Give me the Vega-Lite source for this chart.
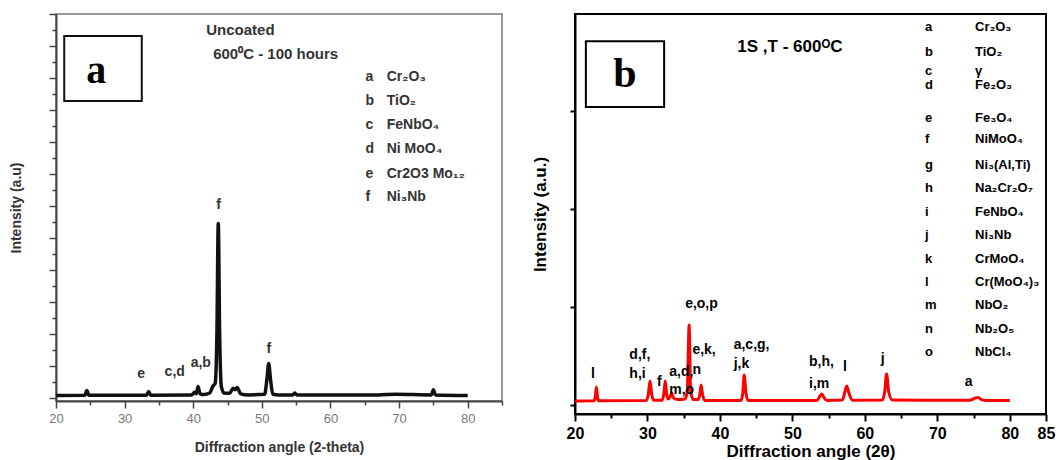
{
  "$schema": "https://vega.github.io/schema/vega-lite/v6.json",
  "background": "white",
  "padding": {"left": 8, "top": 12, "right": 4, "bottom": 2},
  "spacing": 26,
  "config": {"font": "Liberation Sans"},
  "datasets": {
    "xrdA": [
      {"x": 20.0, "y": 15}, {"x": 24.2, "y": 16}, {"x": 24.5, "y": 45}, {"x": 24.8, "y": 16},
      {"x": 33.2, "y": 16}, {"x": 33.5, "y": 40}, {"x": 33.8, "y": 16},
      {"x": 39.8, "y": 18}, {"x": 40.2, "y": 35}, {"x": 40.45, "y": 25}, {"x": 40.7, "y": 70}, {"x": 41.0, "y": 25},
      {"x": 41.5, "y": 20}, {"x": 42.4, "y": 30}, {"x": 42.9, "y": 75}, {"x": 43.2, "y": 90},
      {"x": 43.45, "y": 400}, {"x": 43.65, "y": 1090}, {"x": 43.85, "y": 400}, {"x": 44.1, "y": 70},
      {"x": 44.5, "y": 30}, {"x": 45.3, "y": 28}, {"x": 45.8, "y": 60}, {"x": 46.1, "y": 50}, {"x": 46.4, "y": 65},
      {"x": 46.9, "y": 25}, {"x": 48.0, "y": 18}, {"x": 50.4, "y": 22}, {"x": 50.75, "y": 120}, {"x": 51.0, "y": 215},
      {"x": 51.25, "y": 120}, {"x": 51.6, "y": 22}, {"x": 52.5, "y": 18}, {"x": 54.5, "y": 18}, {"x": 54.8, "y": 30},
      {"x": 55.1, "y": 18}, {"x": 67.0, "y": 18}, {"x": 69.5, "y": 22}, {"x": 74.7, "y": 18}, {"x": 75.0, "y": 50},
      {"x": 75.3, "y": 18}, {"x": 80.0, "y": 15}
    ],
    "peaksA": [
      {"x": 32.4, "y": 149, "label": "e"},
      {"x": 37.3, "y": 161, "label": "c,d"},
      {"x": 41.1, "y": 217, "label": "a,b"},
      {"x": 43.7, "y": 1205, "label": "f"},
      {"x": 51.0, "y": 305, "label": "f"}
    ],
    "notesA": [
      {"x": 41.9, "y": 2299, "label": "Uncoated"},
      {"x": 42.9, "y": 2149, "label": "600⁰C - 100 hours"}
    ],
    "legendA": [
      {"x": 65.1, "xp": 68.2, "y": 2005, "key": "a", "phase": "Cr₂O₃"},
      {"x": 65.1, "xp": 68.2, "y": 1855, "key": "b", "phase": "TiO₂"},
      {"x": 65.1, "xp": 68.2, "y": 1705, "key": "c", "phase": "FeNbO₄"},
      {"x": 65.1, "xp": 68.2, "y": 1555, "key": "d", "phase": "Ni MoO₄"},
      {"x": 65.1, "xp": 68.2, "y": 1399, "key": "e", "phase": "Cr2O3 Mo₁₂"},
      {"x": 65.1, "xp": 68.2, "y": 1255, "key": "f", "phase": "Ni₃Nb"}
    ],
    "boxA": [{"x": 21.2, "x2": 32.5, "y": 2262, "y2": 1856, "label": "a", "cx": 25.85, "cy": 2045}],
    "xrdB": [
      {"x": 20.0, "y": 40}, {"x": 22.6, "y": 42}, {"x": 22.8, "y": 80}, {"x": 22.95, "y": 183}, {"x": 23.1, "y": 80},
      {"x": 23.3, "y": 42}, {"x": 29.8, "y": 45}, {"x": 30.1, "y": 100}, {"x": 30.35, "y": 244}, {"x": 30.6, "y": 100},
      {"x": 30.9, "y": 48}, {"x": 32.0, "y": 48}, {"x": 32.25, "y": 110}, {"x": 32.45, "y": 244}, {"x": 32.65, "y": 110},
      {"x": 32.85, "y": 60}, {"x": 33.1, "y": 80}, {"x": 33.35, "y": 120}, {"x": 33.6, "y": 70}, {"x": 34.2, "y": 55},
      {"x": 35.2, "y": 60}, {"x": 35.5, "y": 150}, {"x": 35.75, "y": 815}, {"x": 35.95, "y": 150}, {"x": 36.3, "y": 55},
      {"x": 37.0, "y": 55}, {"x": 37.25, "y": 120}, {"x": 37.4, "y": 203}, {"x": 37.6, "y": 110}, {"x": 37.9, "y": 45},
      {"x": 42.9, "y": 45}, {"x": 43.15, "y": 120}, {"x": 43.35, "y": 305}, {"x": 43.6, "y": 120}, {"x": 43.9, "y": 45},
      {"x": 53.4, "y": 45}, {"x": 53.8, "y": 90}, {"x": 54.05, "y": 111}, {"x": 54.4, "y": 70}, {"x": 54.8, "y": 45},
      {"x": 56.9, "y": 50}, {"x": 57.3, "y": 150}, {"x": 57.5, "y": 193}, {"x": 57.8, "y": 120}, {"x": 58.3, "y": 48},
      {"x": 62.4, "y": 50}, {"x": 62.75, "y": 140}, {"x": 63.0, "y": 315}, {"x": 63.3, "y": 130}, {"x": 63.8, "y": 50},
      {"x": 74.5, "y": 48}, {"x": 75.2, "y": 70}, {"x": 75.6, "y": 76}, {"x": 76.1, "y": 55}, {"x": 76.8, "y": 45},
      {"x": 80.0, "y": 45}
    ],
    "peaksB": [
      {"x": 22.2, "y": 319, "label": "l"},
      {"x": 27.5, "y": 507, "label": "d,f,"},
      {"x": 27.5, "y": 319, "label": "h,i"},
      {"x": 31.3, "y": 235, "label": "f"},
      {"x": 33.0, "y": 337, "label": "a,d,"},
      {"x": 33.0, "y": 150, "label": "m,o"},
      {"x": 35.2, "y": 1033, "label": "e,o,p"},
      {"x": 36.2, "y": 558, "label": "e,k,"},
      {"x": 36.2, "y": 354, "label": "n"},
      {"x": 41.9, "y": 609, "label": "a,c,g,"},
      {"x": 41.9, "y": 421, "label": "j,k"},
      {"x": 52.3, "y": 439, "label": "b,h,"},
      {"x": 52.3, "y": 217, "label": "i,m"},
      {"x": 57.0, "y": 388, "label": "l"},
      {"x": 62.2, "y": 472, "label": "j"},
      {"x": 73.8, "y": 235, "label": "a"}
    ],
    "notesB": [{"x": 42.4, "y": 3652, "label": "1S ,T - 600ᴼC"}],
    "legendB": [
      {"x": 68.3, "xp": 75.2, "y": 3856, "key": "a", "phase": "Cr₂O₃"},
      {"x": 68.3, "xp": 75.2, "y": 3601, "key": "b", "phase": "TiO₂"},
      {"x": 68.3, "xp": 75.2, "y": 3405, "key": "c", "phase": "γ"},
      {"x": 68.3, "xp": 75.2, "y": 3265, "key": "d", "phase": "Fe₂O₃"},
      {"x": 68.3, "xp": 75.2, "y": 2927, "key": "e", "phase": "Fe₃O₄"},
      {"x": 68.3, "xp": 75.2, "y": 2713, "key": "f", "phase": "NiMoO₄"},
      {"x": 68.3, "xp": 75.2, "y": 2448, "key": "g", "phase": "Ni₃(Al,Ti)"},
      {"x": 68.3, "xp": 75.2, "y": 2213, "key": "h", "phase": "Na₂Cr₂O₇"},
      {"x": 68.3, "xp": 75.2, "y": 1969, "key": "i", "phase": "FeNbO₄"},
      {"x": 68.3, "xp": 75.2, "y": 1734, "key": "j", "phase": "Ni₃Nb"},
      {"x": 68.3, "xp": 75.2, "y": 1489, "key": "k", "phase": "CrMoO₄"},
      {"x": 68.3, "xp": 75.2, "y": 1255, "key": "l", "phase": "Cr(MoO₄)₃"},
      {"x": 68.3, "xp": 75.2, "y": 1020, "key": "m", "phase": "NbO₂"},
      {"x": 68.3, "xp": 75.2, "y": 775, "key": "n", "phase": "Nb₂O₅"},
      {"x": 68.3, "xp": 75.2, "y": 541, "key": "o", "phase": "NbCl₄"}
    ],
    "boxB": [{"x": 21.5, "x2": 32.3, "y": 3713, "y2": 3040, "label": "b", "cx": 26.9, "cy": 3376}]
  },
  "hconcat": [
    {
      "width": 446,
      "height": 387,
      "view": {"stroke": "#777", "strokeWidth": 1.5},
      "encoding": {
        "x": {
          "field": "x", "type": "quantitative",
          "scale": {"domain": [20, 85], "nice": false, "zero": false},
          "axis": {
            "title": "Diffraction angle (2-theta)",
            "values": [20, 25, 30, 35, 40, 45, 50, 55, 60, 65, 70, 75, 80, 85],
            "labelExpr": "datum.value % 10 === 0 && datum.value <= 80 ? datum.label : ''",
            "tickSize": {"condition": {"test": "datum.value % 10 === 0", "value": 7}, "value": 4},
            "grid": false, "domainColor": "#444", "domainWidth": 2, "tickColor": "#444", "tickWidth": 1.5,
            "labelColor": "#777", "labelFontSize": 13, "labelPadding": 4, "labelFlush": false, "labelOverlap": false,
            "titleFontSize": 14, "titleFontWeight": "bold", "titleColor": "#333", "titlePadding": 15
          }
        },
        "y": {
          "field": "y", "type": "quantitative",
          "scale": {"domain": [-20, 2400], "nice": false, "zero": false},
          "axis": {
            "title": "Intensity (a.u)",
            "values": [0, 100, 200, 300, 400, 500, 600, 700, 800, 900, 1000, 1100, 1200, 1300, 1400, 1500, 1600, 1700, 1800, 1900, 2000, 2100, 2200, 2300, 2400],
            "labels": false,
            "tickSize": {"condition": {"test": "datum.value % 200 === 0", "value": 7}, "value": 4},
            "grid": false, "domainColor": "#444", "domainWidth": 2, "tickColor": "#444", "tickWidth": 1.5,
            "titleFontSize": 14, "titleFontWeight": "bold", "titleColor": "#333", "titlePadding": 25
          }
        }
      },
      "layer": [
        {"data": {"name": "xrdA"}, "mark": {"type": "line", "color": "#111", "strokeWidth": 3.5, "interpolate": "monotone"}},
        {"data": {"name": "peaksA"}, "mark": {"type": "text", "fontSize": 14, "fontWeight": "bold", "color": "#333", "baseline": "middle"}, "encoding": {"text": {"field": "label"}}},
        {"data": {"name": "notesA"}, "mark": {"type": "text", "fontSize": 15, "fontWeight": "bold", "color": "#333", "align": "left", "baseline": "middle"}, "encoding": {"text": {"field": "label"}}},
        {"data": {"name": "legendA"}, "mark": {"type": "text", "fontSize": 14, "fontWeight": "bold", "color": "#333", "align": "left", "baseline": "middle"}, "encoding": {"text": {"field": "key"}}},
        {"data": {"name": "legendA"}, "mark": {"type": "text", "fontSize": 14, "fontWeight": "bold", "color": "#333", "align": "left", "baseline": "middle"}, "encoding": {"x": {"field": "xp", "type": "quantitative"}, "text": {"field": "phase"}}},
        {"data": {"name": "boxA"}, "mark": {"type": "rect", "fill": "white", "stroke": "#111", "strokeWidth": 2}, "encoding": {"x2": {"field": "x2"}, "y2": {"field": "y2"}}},
        {"data": {"name": "boxA"}, "mark": {"type": "text", "font": "Liberation Serif", "fontSize": 40, "fontWeight": "bold", "color": "#000", "baseline": "middle"}, "encoding": {"x": {"field": "cx", "type": "quantitative"}, "y": {"field": "cy", "type": "quantitative"}, "text": {"field": "label"}}}
      ]
    },
    {
      "width": 471,
      "height": 400,
      "view": {"stroke": "#000", "strokeWidth": 2},
      "encoding": {
        "x": {
          "field": "x", "type": "quantitative",
          "scale": {"domain": [20, 85], "nice": false, "zero": false},
          "axis": {
            "title": "Diffraction angle (2θ)",
            "values": [20, 25, 30, 35, 40, 45, 50, 55, 60, 65, 70, 75, 80, 85],
            "labelExpr": "datum.value % 10 === 0 || datum.value === 85 ? datum.label : ''",
            "tickSize": {"condition": {"test": "datum.value % 10 === 0 || datum.value === 85", "value": 7}, "value": 4},
            "grid": false, "domainColor": "#000", "domainWidth": 2, "tickColor": "#000", "tickWidth": 2,
            "labelColor": "#000", "labelFontSize": 16, "labelFontWeight": "bold", "labelPadding": 4, "labelFlush": false, "labelOverlap": false,
            "titleFontSize": 17, "titleFontWeight": "bold", "titleColor": "#000", "titlePadding": 2
          }
        },
        "y": {
          "field": "y", "type": "quantitative",
          "scale": {"domain": [-92, 3990], "nice": false, "zero": false},
          "axis": {
            "title": "Intensity (a.u.)",
            "values": [0, 1000, 2000, 3000],
            "labels": false, "tickSize": 5,
            "grid": false, "domainColor": "#000", "domainWidth": 2, "tickColor": "#000", "tickWidth": 2,
            "titleFontSize": 17, "titleFontWeight": "bold", "titleColor": "#000", "titlePadding": 20
          }
        }
      },
      "layer": [
        {"data": {"name": "xrdB"}, "mark": {"type": "line", "color": "#ff0000", "strokeWidth": 3, "interpolate": "monotone"}},
        {"data": {"name": "peaksB"}, "mark": {"type": "text", "fontSize": 14, "fontWeight": "bold", "color": "#000", "align": "left", "baseline": "middle"}, "encoding": {"text": {"field": "label"}}},
        {"data": {"name": "notesB"}, "mark": {"type": "text", "fontSize": 17, "fontWeight": "bold", "color": "#000", "align": "left", "baseline": "middle"}, "encoding": {"text": {"field": "label"}}},
        {"data": {"name": "legendB"}, "mark": {"type": "text", "fontSize": 13, "fontWeight": "bold", "color": "#000", "align": "left", "baseline": "middle"}, "encoding": {"text": {"field": "key"}}},
        {"data": {"name": "legendB"}, "mark": {"type": "text", "fontSize": 13, "fontWeight": "bold", "color": "#000", "align": "left", "baseline": "middle"}, "encoding": {"x": {"field": "xp", "type": "quantitative"}, "text": {"field": "phase"}}},
        {"data": {"name": "boxB"}, "mark": {"type": "rect", "fill": "white", "stroke": "#000", "strokeWidth": 2}, "encoding": {"x2": {"field": "x2"}, "y2": {"field": "y2"}}},
        {"data": {"name": "boxB"}, "mark": {"type": "text", "font": "Liberation Serif", "fontSize": 42, "fontWeight": "bold", "color": "#000", "baseline": "middle"}, "encoding": {"x": {"field": "cx", "type": "quantitative"}, "y": {"field": "cy", "type": "quantitative"}, "text": {"field": "label"}}}
      ]
    }
  ]
}
